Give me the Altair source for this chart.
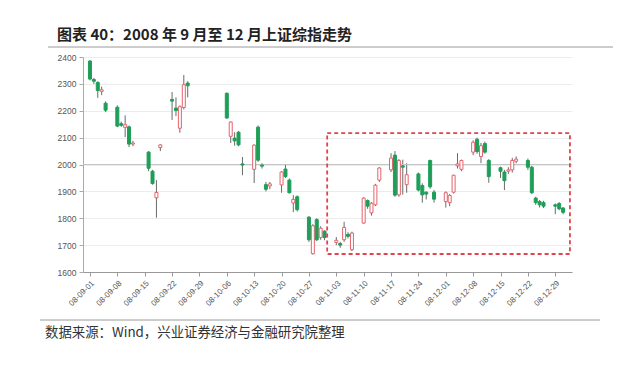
import altair as alt
import pandas as pd

# ---------------- data ----------------
dates = [
    "2008-09-01", "2008-09-02", "2008-09-03", "2008-09-04", "2008-09-05",
    "2008-09-08", "2008-09-09", "2008-09-10", "2008-09-11", "2008-09-12",
    "2008-09-16", "2008-09-17", "2008-09-18", "2008-09-19",
    "2008-09-22", "2008-09-23", "2008-09-24", "2008-09-25", "2008-09-26",
    "2008-10-06", "2008-10-07", "2008-10-08", "2008-10-09", "2008-10-10",
    "2008-10-13", "2008-10-14", "2008-10-15", "2008-10-16", "2008-10-17",
    "2008-10-20", "2008-10-21", "2008-10-22", "2008-10-23", "2008-10-24",
    "2008-10-27", "2008-10-28", "2008-10-29", "2008-10-30", "2008-10-31",
    "2008-11-03", "2008-11-04", "2008-11-05", "2008-11-06", "2008-11-07",
    "2008-11-10", "2008-11-11", "2008-11-12", "2008-11-13", "2008-11-14",
    "2008-11-17", "2008-11-18", "2008-11-19", "2008-11-20", "2008-11-21",
    "2008-11-24", "2008-11-25", "2008-11-26", "2008-11-27", "2008-11-28",
    "2008-12-01", "2008-12-02", "2008-12-03", "2008-12-04", "2008-12-05",
    "2008-12-08", "2008-12-09", "2008-12-10", "2008-12-11", "2008-12-12",
    "2008-12-15", "2008-12-16", "2008-12-17", "2008-12-18", "2008-12-19",
    "2008-12-22", "2008-12-23", "2008-12-24", "2008-12-25", "2008-12-26",
    "2008-12-29", "2008-12-30", "2008-12-31",
]
open_ = [
    2385, 2316, 2305, 2272, 2228,
    2213, 2152, 2138, 2140, 2076,
    2046, 1975, 1876, 2063,
    2242, 2210, 2135, 2212, 2303,
    2265, 2105, 2098, 2120, 2002,
    1982, 2139, 1998, 1925, 1920,
    1924, 1983, 1942, 1857, 1880,
    1804, 1668, 1795, 1728, 1752,
    1710, 1706, 1720, 1740, 1683,
    1782, 1866, 1820, 1850, 1942,
    1980, 2035, 1887, 1995, 1925,
    1965, 1922, 1897, 2015, 1897,
    1862, 1858, 1897, 1995, 1982,
    2046, 2094, 2030, 2078, 2015,
    1988, 1972, 1975, 1980, 2012,
    2015, 1990, 1875, 1862, 1858,
    1850, 1855, 1838,
]
high = [
    2388, 2322, 2310, 2290, 2235,
    2220, 2160, 2183, 2145, 2088,
    2050, 1980, 1942, 2075,
    2270, 2250, 2220, 2333, 2310,
    2268, 2160, 2120, 2125, 2028,
    2075, 2145, 2005, 1935, 1935,
    1975, 1998, 1948, 1886, 1885,
    1808, 1778, 1800, 1770, 1755,
    1730, 1712, 1787, 1748, 1750,
    1878, 1870, 1860, 1928, 1990,
    2042, 2050, 2020, 2018, 2005,
    1970, 1930, 1900, 2018, 1905,
    1900, 1890, 1962, 2042, 2018,
    2090, 2100, 2080, 2085, 2020,
    1992, 1980, 1990, 2025, 2030,
    2022, 1995, 1880, 1868, 1865,
    1855, 1860, 1842,
]
low = [
    2313, 2300, 2248, 2258, 2195,
    2139, 2140, 2102, 2065, 2068,
    1975, 1925, 1802, 2050,
    2166, 2180, 2118, 2205, 2250,
    2170, 2080, 2070, 2068, 1960,
    1931, 2010, 1985, 1900, 1908,
    1895, 1950, 1892, 1823, 1825,
    1712, 1665, 1715, 1720, 1718,
    1700, 1690, 1712, 1725, 1678,
    1780, 1835, 1810, 1845, 1935,
    1972, 1880, 1880, 1888, 1895,
    1900, 1858, 1870, 1910, 1858,
    1840, 1845, 1892, 1985, 1975,
    2035, 2040, 2005, 2040, 1932,
    1950, 1905, 1965, 1970, 2005,
    1980, 1890, 1850, 1840, 1838,
    1815, 1830, 1815,
]
close = [
    2318, 2310, 2275, 2278, 2202,
    2143, 2146, 2148, 2076, 2080,
    1986, 1929, 1896, 2073,
    2236, 2201, 2215, 2297, 2293,
    2173, 2158, 2088, 2073, 1998,
    2072, 2016, 1994, 1908, 1928,
    1972, 1955, 1895, 1870, 1832,
    1720, 1772, 1720, 1763, 1728,
    1718, 1700, 1766, 1733, 1745,
    1875, 1845, 1856, 1923, 1987,
    2024, 1886, 2015, 1990, 1962,
    1905, 1887, 1890, 1917, 1871,
    1895, 1885, 1960, 2002, 2015,
    2083, 2048, 2070, 2046, 1955,
    1975, 1940, 1980, 2015, 2020,
    1990, 1895, 1858, 1850, 1845,
    1845, 1835, 1822,
]

tick_dates = [
    "2008-09-01", "2008-09-08", "2008-09-15", "2008-09-22", "2008-09-29",
    "2008-10-06", "2008-10-13", "2008-10-20", "2008-10-27", "2008-11-03",
    "2008-11-10", "2008-11-17", "2008-11-24", "2008-12-01", "2008-12-08",
    "2008-12-15", "2008-12-22", "2008-12-29",
]
y_ticks = [1600, 1700, 1800, 1900, 2000, 2100, 2200, 2300, 2400]

# highlighted period (dashed box)
box_start = ["2008-10-31T16:00:00"]
box_end = ["2009-01-01T18:00:00"]
box_low = [1667]
box_high = [2117]

title_text = "图表 40：2008 年 9 月至 12 月上证综指走势"
source_text = "数据来源：Wind，兴业证券经济与金融研究院整理"

# ---------------- styling ----------------
GREEN = "#1e9e58"
RED = "#e5636b"
WICK = "#6a6a6a"
CJK = "Noto Sans CJK SC"
LAT = "Liberation Sans"

df = pd.DataFrame({
    "date": pd.to_datetime(dates),
    "open": open_, "high": high, "low": low, "close": close,
})
df["dir"] = ["up" if c >= o else "down" for o, c in zip(open_, close)]


def dt(s, h=0):
    y, m, d = (int(v) for v in s.split("-"))
    return alt.DateTime(year=y, month=m, date=d, hours=h)


x_scale = alt.Scale(domain=[dt("2008-08-31", 12), dt("2009-01-01", 0)])
y_scale = alt.Scale(domain=[1600, 2400], nice=False, zero=False)

x_axis = alt.Axis(
    values=[dt(s) for s in tick_dates], format="%y-%m-%d", labelAngle=-45,
    labelFontSize=8, labelFont=LAT, labelColor="#555", grid=False,
    labelOverlap=False, labelPadding=3,
    tickColor="#999", domainColor="#999", tickSize=4, title=None,
)
y_axis = alt.Axis(
    values=y_ticks, format="d", labelFontSize=8.5, labelFont=LAT,
    labelColor="#555", gridColor="#ececec", tickColor="#aaa",
    labelOverlap=False,
    domainColor="#aaa", tickSize=4, labelPadding=3, title=None,
)

base = alt.Chart(df)

wicks = base.mark_rule(color=WICK, strokeWidth=1).encode(
    x=alt.X("date:T", scale=x_scale, axis=x_axis),
    y=alt.Y("low:Q", scale=y_scale, axis=y_axis),
    y2="high:Q",
)

bodies = base.mark_bar(size=3, strokeWidth=1).encode(
    x=alt.X("date:T", scale=x_scale, axis=x_axis),
    y=alt.Y("open:Q", scale=y_scale, axis=y_axis),
    y2="close:Q",
    fill=alt.Fill("dir:N", scale=alt.Scale(domain=["up", "down"], range=["white", GREEN]), legend=None),
    stroke=alt.Stroke("dir:N", scale=alt.Scale(domain=["up", "down"], range=[RED, GREEN]), legend=None),
)

line2000 = alt.Chart(pd.DataFrame({"v": [2000]})).mark_rule(color="#c4c4c4", strokeWidth=1).encode(
    y=alt.Y("v:Q", scale=y_scale, axis=y_axis)
)

box_df = pd.DataFrame({
    "x0": pd.to_datetime(box_start), "x1": pd.to_datetime(box_end),
    "y0": box_low, "y1": box_high,
})
box = alt.Chart(box_df).mark_rect(
    fill=None, stroke="#e2434d", strokeWidth=1.8, strokeDash=[4, 3], clip=False
).encode(
    x=alt.X("x0:T", scale=x_scale, axis=x_axis), x2="x1:T",
    y=alt.Y("y0:Q", scale=y_scale, axis=y_axis), y2="y1:Q",
)

one = pd.DataFrame({"a": [0]})
title = alt.Chart(pd.DataFrame({"t": [title_text]})).mark_text(
    align="left", baseline="middle", font=CJK, fontSize=15, fontWeight="bold", color="#222"
).encode(text="t:N", x=alt.value(-26), y=alt.value(-22))
title_line = alt.Chart(one).mark_rule(color="#9a9a9a", strokeWidth=1).encode(
    x=alt.value(-35), x2=alt.value(530), y=alt.value(-10)
)
src_line = alt.Chart(one).mark_rule(color="#9a9a9a", strokeWidth=1).encode(
    x=alt.value(-43), x2=alt.value(517), y=alt.value(263)
)
source = alt.Chart(pd.DataFrame({"t": [source_text]})).mark_text(
    align="left", baseline="middle", font=CJK, fontSize=13.4, color="#333"
).encode(text="t:N", x=alt.value(-38), y=alt.value(276))

chart = alt.layer(
    wicks, line2000, bodies, box, title, title_line, src_line, source
).properties(
    width=489, height=215,
    background="white",
    autosize=alt.AutoSizeParams(type="none"),
    padding={"left": 75, "top": 49, "right": 45, "bottom": 85},
).configure_view(strokeWidth=0, stroke="transparent")

chart.save("out.html", embed_options={"renderer": "svg", "actions": False})
